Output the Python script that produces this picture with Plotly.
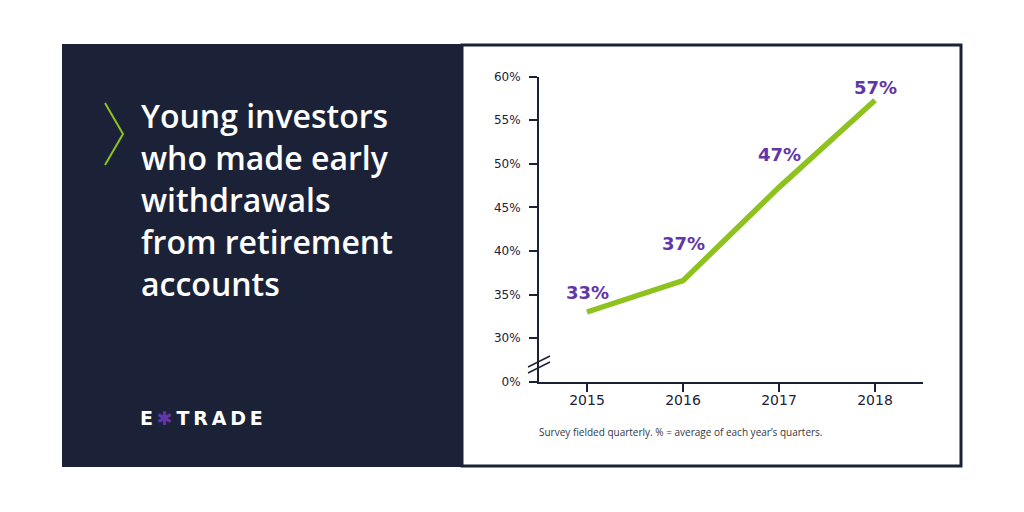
import plotly.graph_objects as go

# data
years = [2015, 2016, 2017, 2018]
share = [33.0, 36.6, 47.3, 57.3]
point_labels = ["33%", "37%", "47%", "57%"]

y_ticks = [25, 30, 35, 40, 45, 50, 55, 60]
y_tick_text = ["0%", "30%", "35%", "40%", "45%", "50%", "55%", "60%"]
x_tick_text = ["2015", "2016", "2017", "2018"]

title_lines = ["Young investors", "who made early", "withdrawals", "from retirement", "accounts"]
footnote = "Survey fielded quarterly. % = average of each year\u2019s quarters."

NAVY = "#1B2238"
GREEN = "#8DC21F"
PURPLE = "#6236A8"
W, H = 1024, 512


def px(x):
    return x / W


def py(y):
    return 1 - y / H


fig = go.Figure()

fig.add_trace(
    go.Scatter(
        x=years,
        y=share,
        mode="lines",
        line=dict(color=GREEN, width=5.5),
        hoverinfo="skip",
        showlegend=False,
    )
)

# value labels sit above each point (pixel offsets from the reference)
label_yshift = [19, 37, 33, 13]
for yr, val, txt, dy in zip(years, share, point_labels, label_yshift):
    fig.add_annotation(
        x=yr, y=val, text=txt, showarrow=False, yshift=dy,
        font=dict(family="DejaVu Sans", size=18, color=PURPLE, weight="bold"),
    )

# left navy panel + framed white panel
fig.add_shape(type="rect", xref="paper", yref="paper",
              x0=px(62), x1=px(462), y0=py(467), y1=py(44),
              fillcolor=NAVY, line_width=0, layer="below")
fig.add_shape(type="rect", xref="paper", yref="paper",
              x0=px(462), x1=px(961), y0=py(466), y1=py(45),
              fillcolor="rgba(0,0,0,0)", line=dict(color=NAVY, width=3), layer="below")

# chevron
fig.add_shape(type="path", xref="paper", yref="paper",
              path=f"M {px(105)},{py(103)} L {px(123)},{py(134)} L {px(105)},{py(165)}",
              line=dict(color=GREEN, width=2))

# axis break marks
for off in (0, 6):
    fig.add_shape(type="line", xref="paper", yref="paper",
                  x0=px(528), y0=py(367 + off), x1=px(550), y1=py(356 + off),
                  line=dict(color=NAVY, width=1.5))

# headline text
for i, line in enumerate(title_lines):
    fig.add_annotation(
        xref="paper", yref="paper", x=px(139), y=py(115 + 42 * i),
        xanchor="left", yanchor="middle", text=line, showarrow=False,
        font=dict(family="Open Sans", size=32, color="white", weight=600),
    )

# logo
fig.add_annotation(
    xref="paper", yref="paper", x=px(138), y=py(418), xanchor="left", yanchor="middle",
    text=f"E\u2009<span style='color:{PURPLE}'>\u2731</span>\u2009T\u2009R\u2009A\u2009D\u2009E",
    showarrow=False,
    font=dict(family="DejaVu Sans", size=19, color="white", weight="bold"),
)

fig.add_annotation(
    xref="paper", yref="paper", x=px(537), y=py(432), xanchor="left", yanchor="middle",
    text=footnote, showarrow=False,
    font=dict(family="Open Sans", size=10, color="#333844"),
)

fig.update_layout(
    width=W, height=H,
    template="none",
    margin=dict(l=0, r=0, t=0, b=0, pad=0, autoexpand=False),
    paper_bgcolor="white",
    plot_bgcolor="white",
    showlegend=False,
    xaxis=dict(
        domain=[px(539), px(923)],
        range=[2014.5, 2018.5],
        tickvals=years, ticktext=x_tick_text,
        showgrid=False, zeroline=False, automargin=False,
        showline=True, linecolor=NAVY, linewidth=2,
        ticks="outside", ticklen=8, tickwidth=2, tickcolor=NAVY,
        ticklabelstandoff=-4,
        tickfont=dict(family="DejaVu Sans", size=14, color=NAVY),
    ),
    yaxis=dict(
        domain=[py(381.7), py(76.7)],
        range=[25, 60],
        tickvals=y_ticks, ticktext=y_tick_text,
        showgrid=False, zeroline=False, automargin=False,
        showline=True, linecolor=NAVY, linewidth=2,
        ticks="outside", ticklen=8, tickwidth=2, tickcolor=NAVY,
        ticklabelstandoff=6,
        tickfont=dict(family="DejaVu Sans", size=12, color=NAVY),
    ),
)

fig.write_html("out.html", config={"displayModeBar": False},
               post_script="document.body.style.margin='0';")
